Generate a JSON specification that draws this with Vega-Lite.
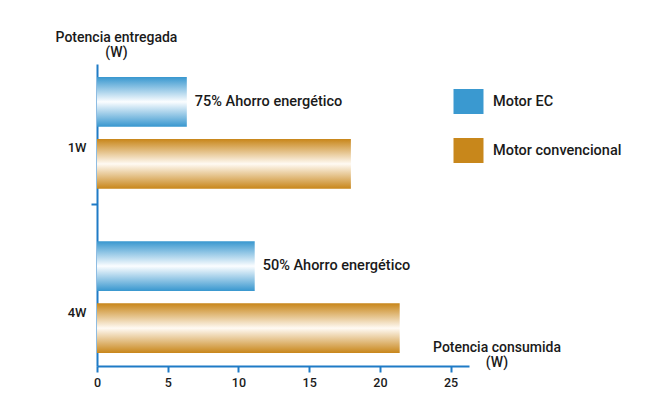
{
  "$schema": "https://vega.github.io/schema/vega-lite/v6.json",
  "width": 372,
  "height": 302,
  "autosize": "none",
  "padding": {"left": 97, "top": 64, "right": 186, "bottom": 41},
  "background": "white",
  "config": {
    "view": {"stroke": null},
    "font": "Roboto",
    "text": {"font": "Roboto"}
  },
  "data": {
    "values": [
      {"potencia": "1W", "motor": "Motor EC", "consumo": 6.35, "label": "75% Ahorro energético"},
      {"potencia": "1W", "motor": "Motor convencional", "consumo": 17.95, "label": null},
      {"potencia": "4W", "motor": "Motor EC", "consumo": 11.15, "label": "50% Ahorro energético"},
      {"potencia": "4W", "motor": "Motor convencional", "consumo": 21.4, "label": null}
    ]
  },
  "encoding": {
    "y": {
      "field": "potencia",
      "type": "nominal",
      "scale": {"paddingInner": 0.32, "paddingOuter": 0.079},
      "axis": {
        "title": ["Potencia entregada", "(W)"],
        "titleAngle": 0,
        "titleX": 19,
        "titleY": -23,
        "titleAlign": "center",
        "titleBaseline": "alphabetic",
        "titleFont": "Roboto",
        "titleFontSize": 14,
        "titleFontWeight": 500,
        "titleColor": "#1a1a1a",
        "titleLineHeight": 15,
        "domainColor": "#1f7bc6",
        "domainWidth": 2,
        "ticks": true,
        "tickColor": "#1f7bc6",
        "tickWidth": 2,
        "tickSize": 6,
        "tickOffset": -93,
        "tickOpacity": {"condition": {"test": "datum.value === '4W'", "value": 1}, "value": 0},
        "labelOffset": 108,
        "labelPadding": 5,
        "labelFont": "Roboto",
        "labelFontSize": 13,
        "labelFontWeight": 500,
        "labelColor": "#1a1a1a",
        "labelAngle": 0
      }
    },
    "yOffset": {
      "field": "motor",
      "type": "nominal",
      "sort": ["Motor EC", "Motor convencional"],
      "scale": {"paddingInner": 0.2, "paddingOuter": 0}
    },
    "x": {
      "field": "consumo",
      "type": "quantitative",
      "scale": {"domain": [0, 26.3], "nice": false, "zero": true},
      "axis": {
        "values": [0, 5, 10, 15, 20, 25],
        "grid": false,
        "title": ["Potencia consumida", "(W)"],
        "titleX": 399.5,
        "titleY": -15,
        "titleAlign": "center",
        "titleBaseline": "alphabetic",
        "titleFont": "Roboto",
        "titleFontSize": 14,
        "titleFontWeight": 500,
        "titleColor": "#1a1a1a",
        "titleLineHeight": 15,
        "domainColor": "#1f7bc6",
        "domainWidth": 2,
        "tickColor": "#1f7bc6",
        "tickWidth": 2,
        "tickSize": 6,
        "labelPadding": 4,
        "labelFont": "Roboto",
        "labelFontSize": 12.5,
        "labelFontWeight": 500,
        "labelColor": "#1a1a1a",
        "labelFlush": false
      }
    }
  },
  "layer": [
    {
      "mark": {"type": "bar", "strokeWidth": 0},
      "encoding": {
        "color": {
          "field": "motor",
          "type": "nominal",
          "scale": {"domain": ["Motor EC", "Motor convencional"], "range": ["#3a99d0", "#c8871b"]},
          "condition": [
            {"test": "datum.motor === 'Motor EC'", "value": {"gradient": "linear", "x1": 0, "y1": 0, "x2": 0, "y2": 1, "stops": [{"offset": 0, "color": "#3897cf"}, {"offset": 0.5, "color": "#fbfdff"}, {"offset": 1, "color": "#3897cf"}]}},
            {"test": "datum.motor === 'Motor convencional'", "value": {"gradient": "linear", "x1": 0, "y1": 0, "x2": 0, "y2": 1, "stops": [{"offset": 0, "color": "#c8861a"}, {"offset": 0.5, "color": "#fffaf3"}, {"offset": 1, "color": "#c8861a"}]}}
          ],
          "legend": {
            "title": null,
            "orient": "none",
            "legendX": 359,
            "legendY": 25,
            "symbolType": "M-1.2,-1H1.2V1H-1.2Z",
            "symbolSize": 625,
            "symbolStrokeWidth": 0,
            "symbolOpacity": 1,
            "rowPadding": 24,
            "labelOffset": 12,
            "labelFont": "Roboto",
            "labelFontSize": 14.5,
            "labelFontWeight": 500,
            "labelColor": "#1a1a1a"
          }
        }
      }
    },
    {
      "transform": [{"filter": "datum.label != null"}],
      "mark": {"type": "text", "align": "left", "baseline": "middle", "dx": 8, "font": "Roboto", "fontSize": 14.5, "fontWeight": 500, "color": "#1a1a1a"},
      "encoding": {
        "text": {"field": "label", "type": "nominal"}
      }
    }
  ]
}
